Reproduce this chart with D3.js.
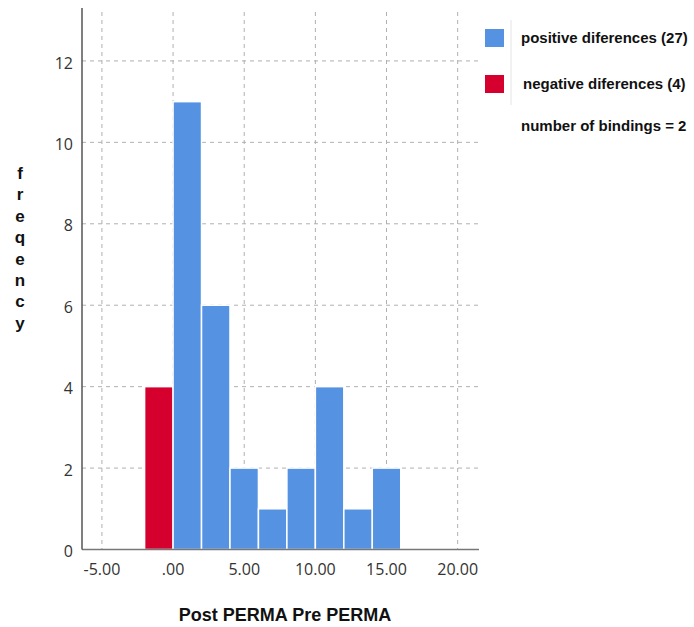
<!DOCTYPE html>
<html><head><meta charset="utf-8">
<script src="https://cdn.jsdelivr.net/npm/d3@7"></script>
<style>body{margin:0;background:#fff}</style>
</head><body>
<script>
const binStarts = [-2, 0, 2, 4, 6, 8, 10, 12, 14];
const binWidth = 2;
const counts = [4, 11, 6, 2, 1, 2, 4, 1, 2];
const xTicks = [-5, 0, 5, 10, 15, 20];
const xTickLabels = ["-5.00", ".00", "5.00", "10.00", "15.00", "20.00"];
const yTicks = [0, 2, 4, 6, 8, 10, 12];
const legendLabels = ["positive diferences (27)", "negative diferences (4)"];
const noteText = "number of bindings = 2";
const xTitle = "Post PERMA Pre PERMA";
const yTitle = "freqency";

const W = 694, H = 627;
const svg = d3.select("body").append("svg").attr("width", W).attr("height", H);
const x = d3.scaleLinear().domain([-6.4, 21.5]).range([82, 479]);
const y = d3.scaleLinear().domain([0, 13.3]).range([549.5, 8]);
const blue = "#5592E2", red = "#D6002E";

// grid
svg.append("g").selectAll("line").data(xTicks).join("line")
  .attr("x1", d => x(d)).attr("x2", d => x(d)).attr("y1", 12).attr("y2", 549)
  .attr("stroke", "#b0b0b0").attr("stroke-dasharray", "4,4").attr("stroke-width", 1);
svg.append("g").selectAll("line").data(yTicks.filter(d => d > 0)).join("line")
  .attr("x1", 82).attr("x2", 479).attr("y1", d => y(d)).attr("y2", d => y(d))
  .attr("stroke", "#b0b0b0").attr("stroke-dasharray", "4,4").attr("stroke-width", 1);

// bars
svg.append("g").selectAll("rect").data(binStarts.map((s, i) => ({s, c: counts[i]}))).join("rect")
  .attr("x", d => x(d.s)).attr("width", d => x(d.s + binWidth) - x(d.s))
  .attr("y", d => y(d.c)).attr("height", d => y(0) - y(d.c))
  .attr("fill", d => d.s < 0 ? red : blue).attr("stroke", "#fff").attr("stroke-width", 1.5);

// axes lines
svg.append("line").attr("x1", 82).attr("x2", 479).attr("y1", y(0)).attr("y2", y(0))
  .attr("stroke", "#777").attr("stroke-width", 1.5);
svg.append("line").attr("x1", 82).attr("x2", 82).attr("y1", 8).attr("y2", y(0))
  .attr("stroke", "#555").attr("stroke-width", 1.5);

// tick labels
const tickFont = "'Open Sans', 'Liberation Sans', sans-serif";
svg.append("g").selectAll("text").data(yTicks).join("text")
  .attr("x", 73).attr("y", d => y(d) + 2).attr("dy", "0.35em").attr("text-anchor", "end")
  .attr("font-family", tickFont).attr("font-size", 16).attr("fill", "#333").text(d => d);
svg.append("g").selectAll("text").data(xTicks).join("text")
  .attr("x", d => x(d)).attr("y", 569).attr("dy", "0.35em").attr("text-anchor", "middle")
  .attr("font-family", tickFont).attr("font-size", 16).attr("fill", "#333")
  .text((d, i) => xTickLabels[i]);

// titles
svg.append("text").attr("x", 285).attr("y", 621).attr("text-anchor", "middle")
  .attr("font-family", "'Liberation Sans', Arial, sans-serif").attr("font-weight", "bold")
  .attr("font-size", 18).attr("fill", "#111").text(xTitle);
svg.append("g").selectAll("text").data(yTitle.split("")).join("text")
  .attr("x", 20).attr("y", (d, i) => 179 + i * 21.4).attr("text-anchor", "middle")
  .attr("font-family", "'Liberation Sans', Arial, sans-serif").attr("font-weight", "bold")
  .attr("font-size", 17).attr("fill", "#111").text(d => d);

// legend
svg.append("line").attr("x1", 511).attr("x2", 511).attr("y1", 20).attr("y2", 105)
  .attr("stroke", "#e4e4e4").attr("stroke-width", 1);
const lg = svg.append("g");
[blue, red].forEach((c, i) => {
  const cy = 38 + i * 46;
  lg.append("rect").attr("x", 485).attr("y", cy - 9).attr("width", 19).attr("height", 18).attr("fill", c);
  lg.append("text").attr("x", 521 + i * 2).attr("y", cy).attr("dy", "0.35em")
    .attr("font-family", "'Liberation Sans', Arial, sans-serif").attr("font-weight", "bold")
    .attr("font-size", 15).attr("fill", "#111").text(legendLabels[i]);
});
lg.append("text").attr("x", 521).attr("y", 126).attr("dy", "0.35em")
  .attr("font-family", "'Liberation Sans', Arial, sans-serif").attr("font-weight", "bold")
  .attr("font-size", 15).attr("fill", "#111").text(noteText);
</script>
</body></html>
